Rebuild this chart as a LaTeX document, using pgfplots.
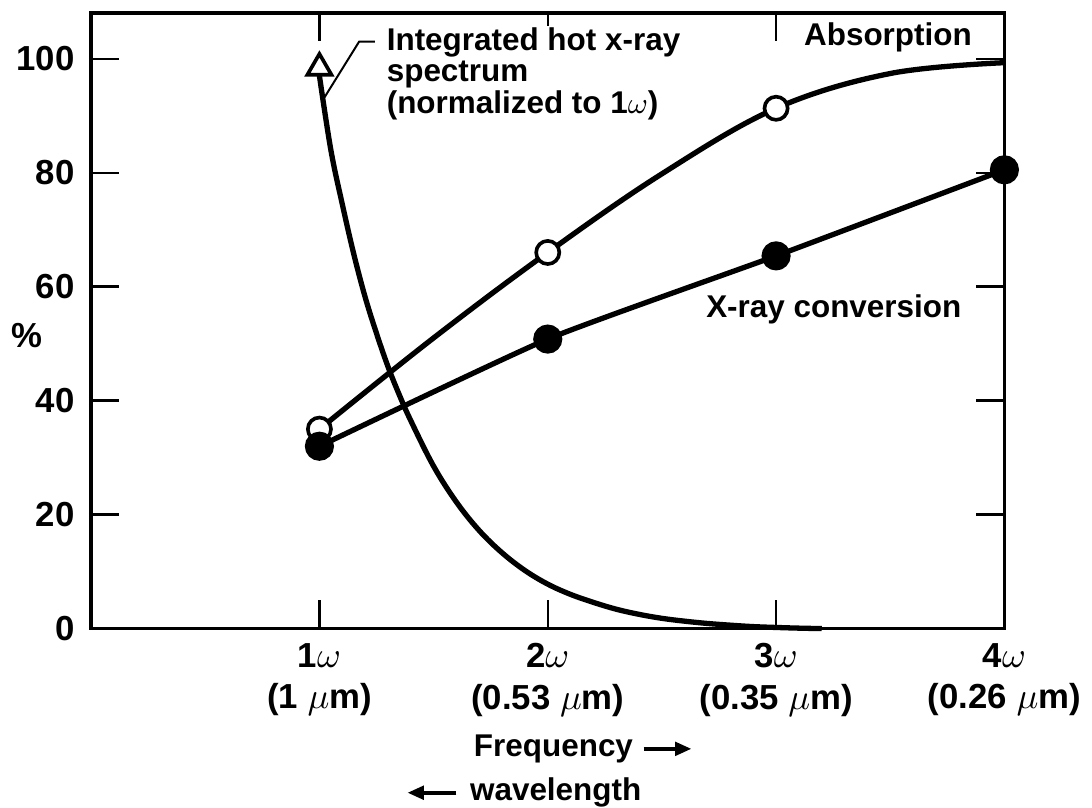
\documentclass[border=0pt]{standalone}
\usepackage{fontspec}
\setmainfont{Liberation Sans}
\usepackage{pgfplots}
\pgfplotsset{compat=1.18}
\usetikzlibrary{arrows.meta}

\begin{document}
\begin{tikzpicture}
\begin{axis}[
  scale only axis, width=276pt, height=186pt,
  xmin=0, xmax=4, ymin=0, ymax=108,
  axis line style={line width=1pt},
  xtick={1,2,3,4},
  xticklabels={{\textbf{1}$\omega$\\(1 $\mu$m)},{\textbf{2}$\omega$\\(0.53 $\mu$m)},{\textbf{3}$\omega$\\(0.35 $\mu$m)},{\textbf{4}$\omega$\\(0.26 $\mu$m)}},
  ytick={0,20,...,100},
  tick align=inside, xtick pos=both, ytick pos=both,
  xticklabel pos=lower, yticklabel pos=left,
  major tick length=8.5pt,
  tick style={line width=0.7pt, black},
  ticklabel style={font=\fontsize{10.5}{12.5}\selectfont\bfseries},
  xticklabel style={align=center, yshift=-1pt},
  yticklabel style={xshift=-1.5pt},
  /pgf/number format/assume math mode=true,
  clip=false,
]
% invisible bounding box to match the reference proportions
\path (axis cs:-0.378,-30.3) rectangle (axis cs:4.37,110.3);

% Integrated hot x-ray spectrum
\addplot[black, line width=1.6pt, smooth, tension=0.6, mark=none] coordinates {
  (1,97) (1.05,84) (1.1,74.5) (1.15,65.8) (1.2,58.2) (1.25,51.8) (1.3,46)
  (1.35,41) (1.4,36.5) (1.5,28.5) (1.6,22.2) (1.7,17.2) (1.8,13.3)
  (1.9,10.2) (2.0,7.8) (2.1,6.0) (2.2,4.6) (2.3,3.4) (2.4,2.5) (2.5,1.8)
  (2.6,1.3) (2.7,0.9) (2.8,0.6) (2.9,0.35) (3.0,0.2) (3.1,0.08) (3.2,0)
};
\addplot[only marks, mark=triangle*, mark size=4.2pt, mark options={fill=white, draw=black, line width=1.1pt}] coordinates {(1,98.4)};

% Absorption
\addplot[black, line width=1.6pt, smooth, tension=0.6, mark=*, mark indices={1,3,5}, mark size=3.5pt,
  mark options={fill=white, draw=black, line width=1.1pt}] coordinates {
  (1,35) (1.5,51) (2,66) (2.5,79.8) (3,91.3) (3.5,97.4) (4,99.3)
};

% X-ray conversion
\addplot[black, line width=1.6pt, smooth, tension=0.3, mark=*, mark size=3.6pt,
  mark options={fill=black, draw=black}] coordinates {
  (1,32) (2,50.8) (3,65.4) (4,80.5)
};

% leader line
\draw[line width=0.6pt] (axis cs:1.022,93.2) -- (axis cs:1.174,103) -- (axis cs:1.243,103);

\node[anchor=north west, align=left, fill=white, inner sep=0.5pt,
  font=\fontsize{9.5}{9.6}\selectfont\bfseries] at (axis cs:1.285,105.9)
  {Integrated hot x-ray\\spectrum\\(normalized to \textbf{1}$\omega$)};

\node[anchor=base, font=\fontsize{9.5}{11}\selectfont\bfseries] at (axis cs:3.49,102.4) {Absorption};
\node[anchor=base west, font=\fontsize{9.5}{11}\selectfont\bfseries] at (axis cs:2.643,54.5) {X-ray conversion};
\node[font=\fontsize{10.5}{12}\selectfont\bfseries] at (axis cs:-0.283,51.4) {\%};

\node[anchor=base west, inner sep=0pt, font=\fontsize{9.5}{11}\selectfont\bfseries] at (axis cs:1.674,-22.4) {Frequency};
\draw[line width=1.3pt, -{Triangle[length=5pt,width=4pt]}] (axis cs:2.42,-21.1) -- (axis cs:2.63,-21.1);
\node[anchor=base west, inner sep=0pt, font=\fontsize{9.5}{11}\selectfont\bfseries] at (axis cs:1.657,-30.2) {wavelength};
\draw[line width=1.3pt, -{Triangle[length=5pt,width=4pt]}] (axis cs:1.6,-28.8) -- (axis cs:1.385,-28.8);
\end{axis}
\end{tikzpicture}
\end{document}
